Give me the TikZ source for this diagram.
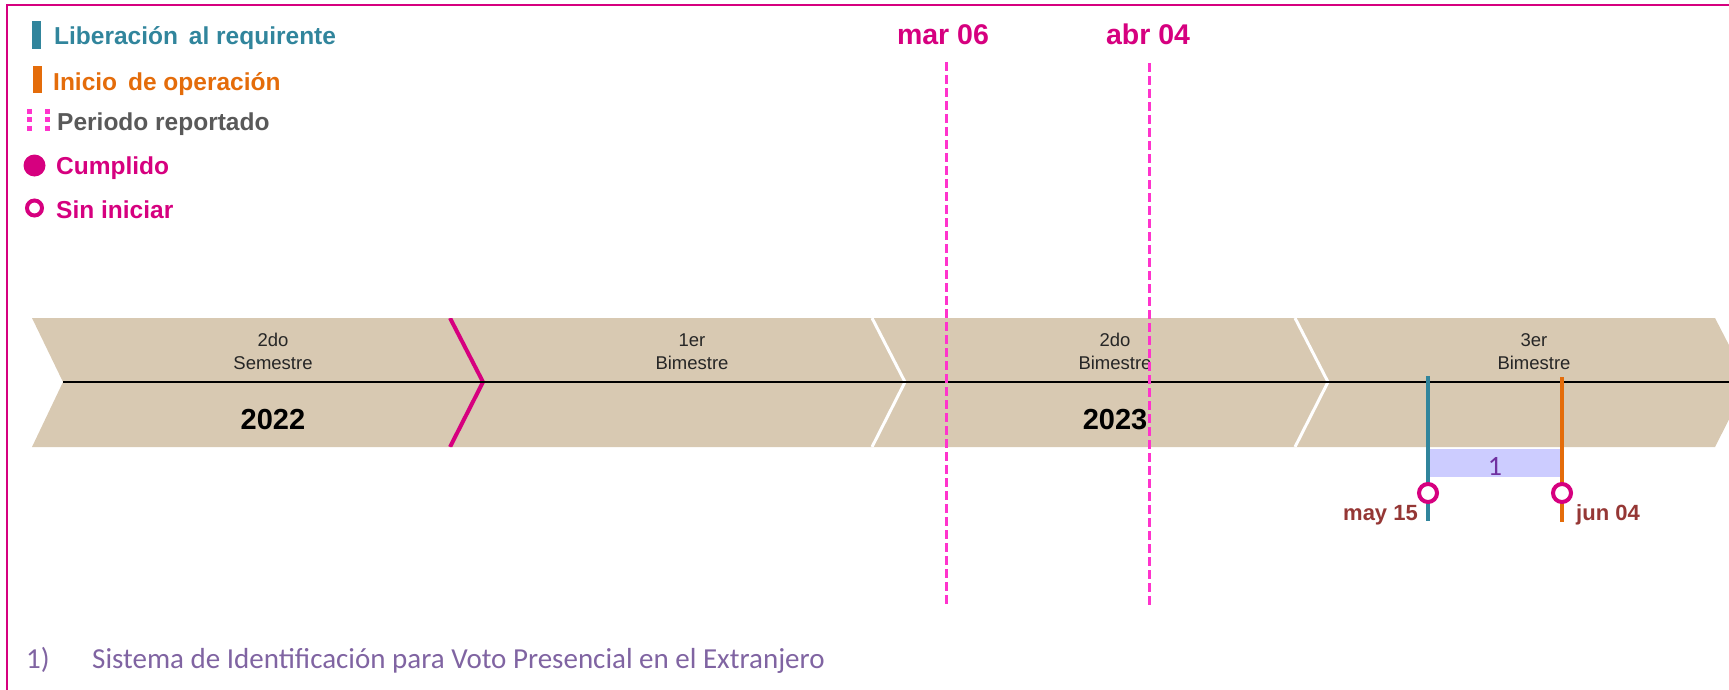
\documentclass[tikz,border=0pt]{standalone}
\usepackage{fontspec}
\setmainfont{Liberation Sans}
\newfontfamily\calib{Carlito}
\definecolor{framec}{RGB}{214,0,127}
\definecolor{tealc}{RGB}{49,133,156}
\definecolor{orangec}{RGB}{228,108,10}
\definecolor{grayc}{RGB}{89,89,89}
\definecolor{pdashc}{RGB}{255,51,204}
\definecolor{tanc}{RGB}{216,201,178}
\definecolor{brownc}{RGB}{149,55,53}
\definecolor{lavc}{RGB}{204,204,255}
\definecolor{purpc}{RGB}{112,48,160}
\definecolor{footc}{RGB}{128,100,162}
\tikzset{
  legtxt/.style={font=\bfseries\fontsize{24.5}{29}\selectfont, anchor=base west, inner sep=0pt},
  chevtxt/.style={font=\fontsize{18.5}{22}\selectfont, anchor=base, inner sep=0pt, text=black!85},
  yeartxt/.style={font=\bfseries\fontsize{29}{34}\selectfont, anchor=base, inner sep=0pt},
  datetxt/.style={font=\bfseries\fontsize{28.5}{34}\selectfont, anchor=base, inner sep=0pt, text=framec},
  mtxt/.style={font=\bfseries\fontsize{22}{26}\selectfont, inner sep=0pt, text=brownc},
  pdash/.style={draw=pdashc, line width=3pt, dash pattern=on 9pt off 4pt},
  ringc/.style={circle, draw=framec, line width=4pt, fill=white, minimum size=18pt, inner sep=0pt},
}
\begin{document}
\begin{tikzpicture}[x=1pt,y=-1pt]
\useasboundingbox (0,0) rectangle (1729,690);
\clip (0,0) rectangle (1729,690);
% frame
\draw[framec, line width=2pt] (1800,5) -- (7,5) -- (7,760);
% band
\path[fill=tanc] (32,318) -- (1715,318) -- (1748,382) -- (1715,447) -- (32,447) -- (63,382) -- cycle;
\begin{scope}
\clip (32,318) -- (1715,318) -- (1748,382) -- (1715,447) -- (32,447) -- (63,382) -- cycle;
\coordinate (s1t) at (450,318); \coordinate (s1m) at (483,382); \coordinate (s1b) at (450,447);
\coordinate (s2t) at (872,318); \coordinate (s2m) at (905,382); \coordinate (s2b) at (872,447);
\coordinate (s3t) at (1295,318); \coordinate (s3m) at (1328,382); \coordinate (s3b) at (1295,447);
\draw[framec, line width=4pt] (s1t) -- (s1m) -- (s1b);
\draw[white, line width=3pt] (s2t) -- (s2m) -- (s2b);
\draw[white, line width=3pt] (s3t) -- (s3m) -- (s3b);
\end{scope}
\coordinate (axisL) at (63,382);
\coordinate (axisR) at (1729,382);
\draw[black, line width=2pt] (axisL) -- (axisR);
% chevron labels
\node[chevtxt] (c1a) at (273,346) {2do};
\node[chevtxt] (c1b) at (273,369) {Semestre};
\node[yeartxt] (y22) at (273,429) {2022};
\node[chevtxt] (c2a) at (692,346) {1er};
\node[chevtxt] (c2b) at (692,369) {Bimestre};
\node[chevtxt] (c3a) at (1115,346) {2do};
\node[chevtxt] (c3b) at (1115,369) {Bimestre};
\node[yeartxt] (y23) at (1115,429) {2023};
\node[chevtxt] (c4a) at (1534,346) {3er};
\node[chevtxt] (c4b) at (1534,369) {Bimestre};
% activity 1
\node[fill=lavc, minimum width=130pt, minimum height=28pt, inner sep=0pt] (box1) at (1495,463) {};
\node[font=\calib\fontsize{28}{32}\selectfont, text=purpc, anchor=base, inner sep=0pt] (one) at (1495,475) {1};
\coordinate (tTop) at (1428,376); \coordinate (tBot) at (1428,521);
\coordinate (oTop) at (1562,377); \coordinate (oBot) at (1562,522);
\draw[tealc, line width=4pt] (tTop) -- (tBot);
\draw[orangec, line width=4pt] (oTop) -- (oBot);
\node[ringc] (r1) at (1428,493) {};
\node[ringc] (r2) at (1562,493) {};
\node[mtxt, anchor=base east] (d1) at (1418,520) {may 15};
\node[mtxt, anchor=base west] (d2) at (1576,520) {jun 04};
% reported period
\coordinate (m1t) at (946,62); \coordinate (m1b) at (946,607);
\coordinate (m2t) at (1149,63); \coordinate (m2b) at (1149,607);
\draw[pdash] (m1t) -- (m1b);
\draw[pdash] (m2t) -- (m2b);
\node[datetxt] (lm1) at (943,45) {mar 06};
\node[datetxt] (lm2) at (1148,45) {abr 04};
% legend
\node[fill=tealc, minimum width=9pt, minimum height=28pt, inner sep=0pt] (lg1) at (36.5,35) {};
\node[legtxt, text=tealc] (lt1) at (54,45) {Liberación\, al requirente};
\node[fill=orangec, minimum width=9pt, minimum height=27pt, inner sep=0pt] (lg2) at (37.5,79.5) {};
\node[legtxt, text=orangec] (lt2) at (53,91) {Inicio\, de operación};
\coordinate (lg3a) at (29.5,109); \coordinate (lg3b) at (29.5,134);
\coordinate (lg3c) at (47.5,109); \coordinate (lg3d) at (47.5,134);
\draw[draw=pdashc, line width=5pt, dash pattern=on 5pt off 3.5pt] (lg3a) -- (lg3b);
\draw[draw=pdashc, line width=5pt, dash pattern=on 5pt off 3.5pt] (lg3c) -- (lg3d);
\node[legtxt, text=grayc] (lt3) at (57,131) {Periodo reportado};
\node[circle, fill=framec, minimum size=22pt, inner sep=0pt] (lg4) at (34.5,165.5) {};
\node[legtxt, text=framec] (lt4) at (56,175) {Cumplido};
\node[circle, draw=framec, line width=4pt, fill=white, minimum size=15pt, inner sep=0pt] (lg5) at (34.5,208) {};
\node[legtxt, text=framec] (lt5) at (56,218) {Sin iniciar};
% footnote
\node[font=\calib\fontsize{29}{34}\selectfont, text=footc, anchor=base west, inner sep=0pt] (fn1) at (26,668) {1)};
\node[font=\calib\fontsize{29}{34}\selectfont, text=footc, anchor=base west, inner sep=0pt] (fn2) at (92,668) {Sistema de Identificación para Voto Presencial en el Extranjero};
\end{tikzpicture}
\end{document}
